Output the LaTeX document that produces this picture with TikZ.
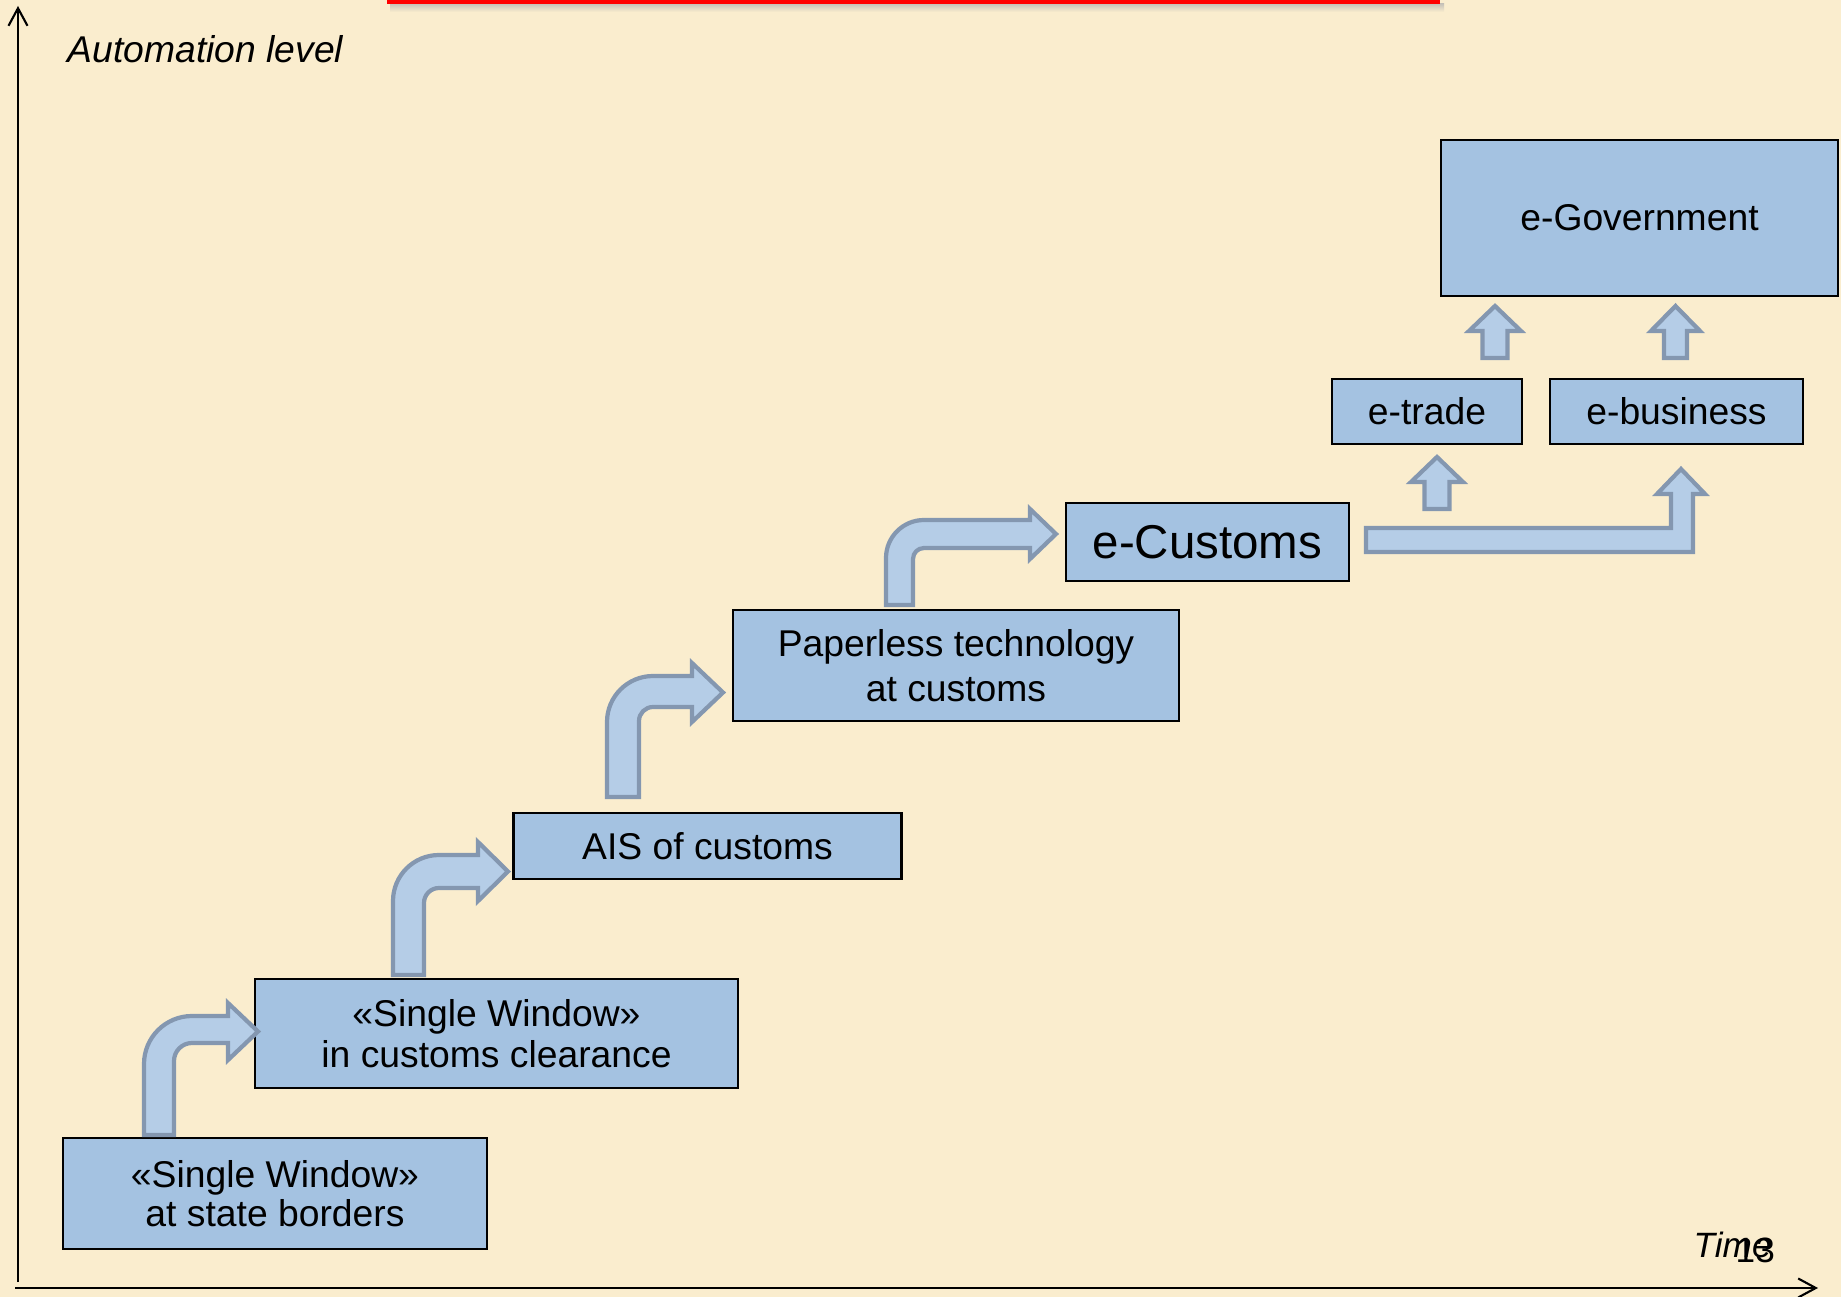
\documentclass[tikz,border=0pt]{standalone}
\usepackage{fontspec}
\setmainfont{Liberation Sans}
\usetikzlibrary{arrows.meta}
\definecolor{bg}{RGB}{250,237,206}
\definecolor{boxfill}{RGB}{164,194,225}
\definecolor{arrfill}{RGB}{181,205,231}
\definecolor{arrline}{RGB}{132,151,176}
\definecolor{shadowgrey}{RGB}{200,195,185}

\def\Rout{46}
% bent block arrow: xl, xr, ybot, y outer, y inner, head base x, tip x, tip y, head half width
\newcommand{\bentarr}[9]{%
  \pgfmathsetmacro{\Ri}{\Rout-(#2-#1)}%
  \draw[barrow] (#1,#3) -- (#1,{#4+\Rout})
    .. controls (#1,{#4+\Rout*0.4477}) and ({#1+\Rout*0.4477},#4) .. ({#1+\Rout},#4)
    -- (#6,#4) -- (#6,{#8-#9}) -- (#7,#8) -- (#6,{#8+#9}) -- (#6,#5)
    -- ({#2+\Ri},#5)
    .. controls ({#2+\Ri*0.4477},#5) and (#2,{#5+\Ri*0.4477}) .. (#2,{#5+\Ri})
    -- (#2,#3) -- cycle;}
% straight up block arrow: x centre, shaft width, y bottom, y head base, y tip, head half width
\newcommand{\uparr}[6]{%
  \draw[barrow] ({#1-#2/2},#3) -- ({#1-#2/2},#4) -- ({#1-#6},#4) -- (#1,#5)
    -- ({#1+#6},#4) -- ({#1+#2/2},#4) -- ({#1+#2/2},#3) -- cycle;}

\begin{document}
\begin{tikzpicture}[x=0.01cm,y=-0.01cm,
  box/.style={draw=black,line width=0.7pt,fill=boxfill,inner sep=0pt,align=center},
  barrow/.style={draw=arrline,fill=arrfill,line width=1.2pt,line join=miter},
  axis/.style={line width=0.6pt,-{Straight Barb[length=5pt,width=5.4pt]}},
  lbl/.style={anchor=base west,inner sep=0pt}]

\useasboundingbox (0,0) rectangle (1841,1297);
\fill[bg] (0,0) rectangle (1841,1297);

% red title bar with shadow
\shade[top color=shadowgrey,bottom color=bg] (390,4) rectangle (1444,12);
\fill[red] (387,0) rectangle (1440,4);

% axes
\coordinate (ybot) at (18,1282);
\coordinate (ytop) at (18,6);
\coordinate (xleft) at (15,1288);
\coordinate (xright) at (1818,1288);
\draw[axis] (ybot) -- (ytop);
\draw[axis] (xleft) -- (xright);

\node[lbl,font=\fontsize{10.6}{12}\selectfont\itshape] (ylab) at (67,63) {Automation level};
\node[lbl,font=\fontsize{10}{12}\selectfont\itshape] (xlab) at (1693,1257) {Time};
\node[lbl,font=\fontsize{10}{12}\selectfont] (pgnum) at (1735,1262) {13};

% boxes
\node[box,minimum width=4.24cm,minimum height=1.11cm,font=\fontsize{10.6}{11.2}\selectfont] (b1) at (275,1193.5) {«Single Window»\\at state borders};
\node[box,minimum width=4.83cm,minimum height=1.09cm,font=\fontsize{10.6}{11.6}\selectfont] (b2) at (496.5,1033.5) {«Single Window»\\in customs clearance};
\node[box,minimum width=3.88cm,minimum height=0.66cm,font=\fontsize{10.6}{12}\selectfont] (b3) at (707.5,846) {AIS of customs};
\node[box,minimum width=4.46cm,minimum height=1.11cm,font=\fontsize{10.6}{12.8}\selectfont] (b4) at (956,665.5) {Paperless technology\\at customs};
\node[box,minimum width=2.83cm,minimum height=0.78cm,font=\fontsize{13.5}{15}\selectfont] (b5) at (1207.5,542) {e-Customs};
\node[box,minimum width=1.90cm,minimum height=0.65cm,font=\fontsize{10.6}{12}\selectfont] (b6) at (1427,411.5) {e-trade};
\node[box,minimum width=2.53cm,minimum height=0.65cm,font=\fontsize{10.6}{12}\selectfont] (b7) at (1676.5,411.5) {e-business};
\node[box,minimum width=3.97cm,minimum height=1.56cm,font=\fontsize{10.6}{12}\selectfont] (b8) at (1639.5,218) {e-Government};

% bent block arrows
\def\Rout{48}
\bentarr{144}{174}{1135}{1016}{1043}{228}{258}{1031.5}{28.5}
\def\Rout{46}
\bentarr{393}{424}{975}{855}{888}{478}{508}{871.5}{29.5}
\bentarr{607}{639}{797}{676}{707}{692}{723}{692.5}{29.5}
\def\Rout{38}
\bentarr{886}{913}{605}{520}{548}{1030}{1056}{534}{25}

% straight block arrows
\uparr{1437}{25}{509}{482}{457}{26}
\uparr{1495}{25}{358}{331}{306}{26}
\uparr{1675.5}{23}{358}{331}{306}{24.5}
\draw[barrow] (1366,528) -- (1671,528) -- (1671,494) -- (1657,494) -- (1681,469)
  -- (1705,494) -- (1693,494) -- (1693,552) -- (1366,552) -- cycle;
\end{tikzpicture}
\end{document}
